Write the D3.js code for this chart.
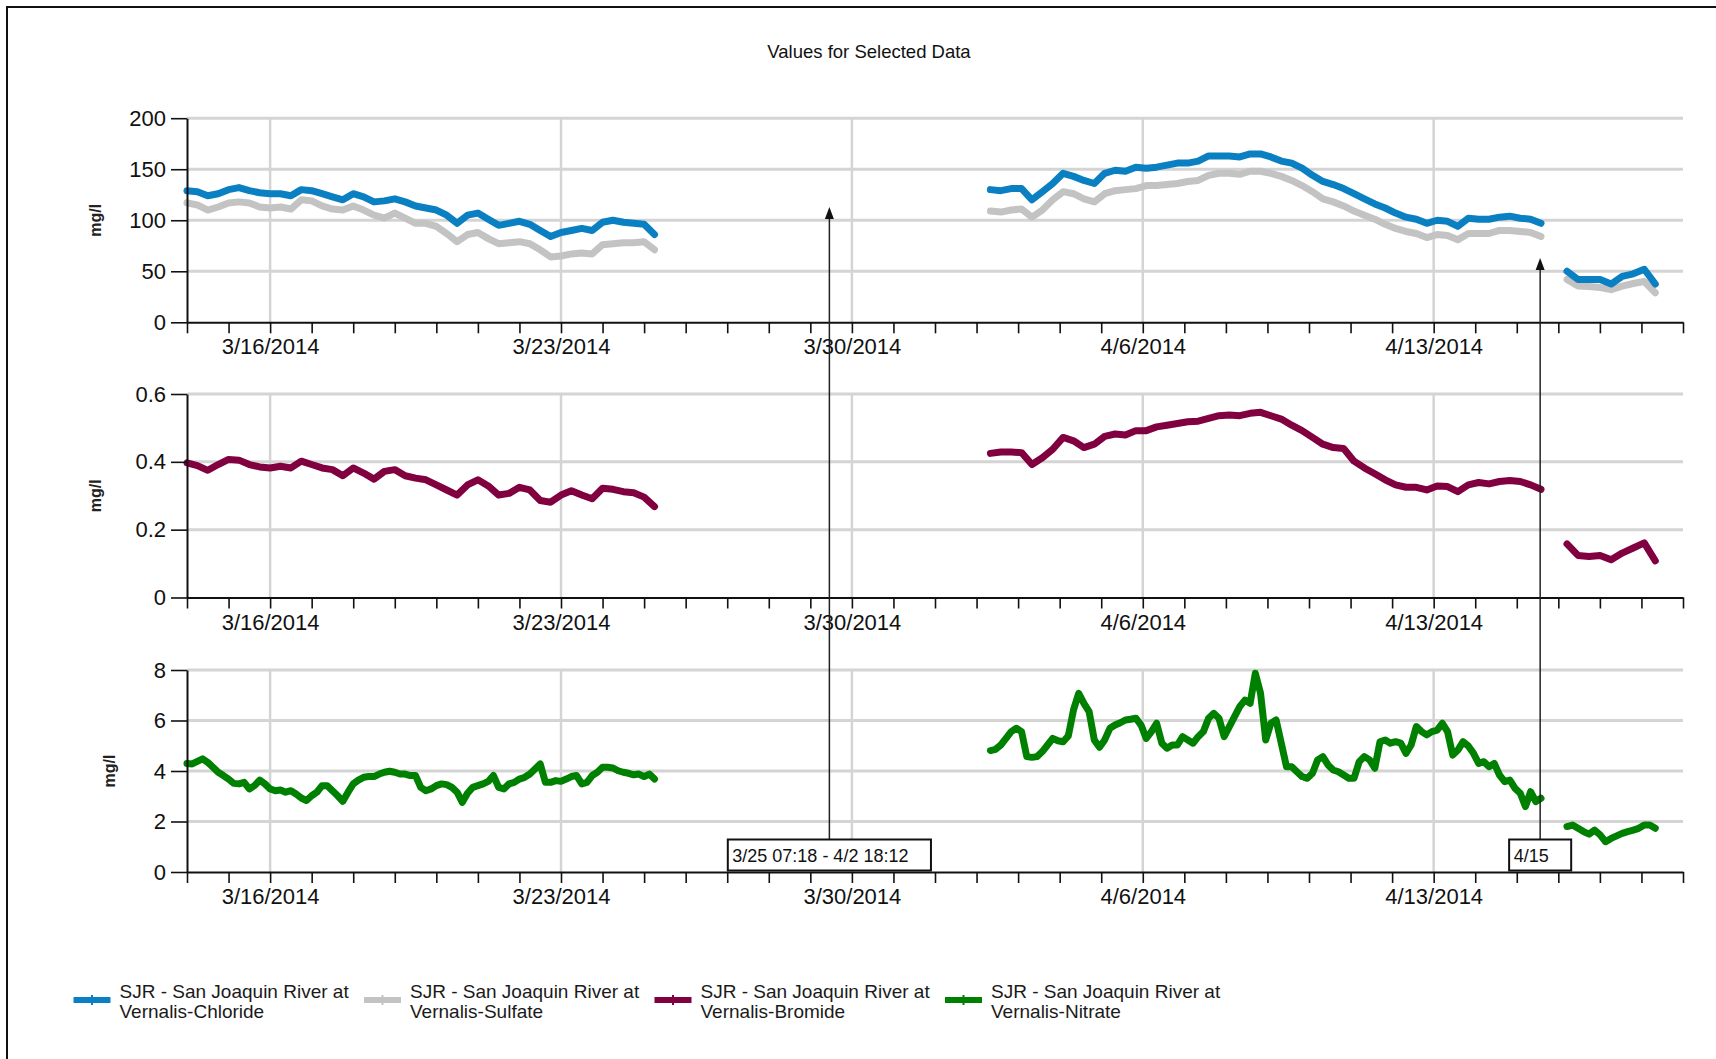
<!DOCTYPE html>
<html><head><meta charset="utf-8">
<script src="https://cdn.jsdelivr.net/npm/d3@7"></script>
<style>
html,body{margin:0;padding:0;background:#fff;overflow:hidden}
svg{display:block;font-family:"Liberation Sans",Arial,sans-serif}
</style></head><body>
<svg id="chart" width="1716" height="1059"></svg>
<script>
// ---------------- DATA ----------------
const chartTitle = "Values for Selected Data";
const yAxisTitle = "mg/l";
const xDomain = ["2014-03-14T00:00", "2014-04-19T00:00"];
const xLabelDates = ["2014-03-16T00:00", "2014-03-23T00:00", "2014-03-30T00:00", "2014-04-06T00:00", "2014-04-13T00:00"];
const xLabelTexts = ["3/16/2014", "3/23/2014", "3/30/2014", "4/6/2014", "4/13/2014"];

const segmentStarts = ["2014-03-14T00:00", "2014-04-02T08:00", "2014-04-16T05:00"];
const segmentStepHours = [6, 6, 6.375];          // chloride, sulfate, bromide
const nitrateStepHours = [3, 3, 3.1875];          // nitrate

const topTicks = [0, 50, 100, 150, 200];
const topTickLabels = ["0", "50", "100", "150", "200"];
const midTicks = [0, 0.2, 0.4, 0.6];
const midTickLabels = ["0", "0.2", "0.4", "0.6"];
const botTicks = [0, 2, 4, 6, 8];
const botTickLabels = ["0", "2", "4", "6", "8"];

const chloride1 = [129,128,124,126,130,132,129,127,126,126,124,130,129,126,123,120,126,123,118,119,121,118,114,112,110,105,97,105,107,101,95,97,99,96,90,84,88,90,92,90,98,100,98,97,96,86];
const chloride2 = [130,129,131,131,120,128,136,146,143,139,136,146,149,148,152,151,152,154,156,156,158,163,163,163,162,165,165,162,158,156,151,144,138,135,131,126,121,116,112,107,103,101,97,100,99,94,102,101,101,103,104,102,101,97];
const chloride3 = [50,42,42,42,37.5,45,47.5,52,37.5];

const sulfate1 = [117,115,110,113,117,118,117,113,112,113,111,120,119,114,111,110,114,110,105,102,107,102,97,97,94,87,79,86,88,82,77,78,79,77,71,64,65,67,68,67,76,77,78,78,79,71];
const sulfate2 = [109,108,110,111,103,110,120,128,126,121,118,126,129,130,131,134,134,135,136,138,139,144,146,146,145,148,148,146,143,139,134,128,121,118,114,109,105,101,96,92,89,87,83,86,85,81,87,87,87,90,90,89,88,84];
const sulfate3 = [42,35.5,35,34,32,35.5,38,40,29];

const bromide1 = [0.397,0.389,0.375,0.392,0.407,0.405,0.392,0.385,0.382,0.387,0.382,0.402,0.392,0.382,0.377,0.359,0.382,0.367,0.349,0.372,0.377,0.359,0.352,0.347,0.332,0.317,0.302,0.332,0.347,0.329,0.302,0.307,0.325,0.317,0.286,0.281,0.302,0.315,0.302,0.291,0.322,0.319,0.312,0.309,0.296,0.268];
const bromide2 = [0.425,0.429,0.429,0.427,0.392,0.412,0.437,0.472,0.462,0.442,0.452,0.475,0.482,0.479,0.492,0.492,0.503,0.508,0.513,0.518,0.520,0.528,0.536,0.538,0.536,0.543,0.546,0.536,0.526,0.508,0.492,0.472,0.452,0.442,0.439,0.402,0.382,0.365,0.347,0.332,0.325,0.325,0.317,0.329,0.327,0.312,0.332,0.339,0.335,0.342,0.345,0.342,0.332,0.319];
const bromide3 = [0.158,0.124,0.121,0.124,0.111,0.131,0.146,0.161,0.108];

const nitrate1 = [4.30,4.28,4.38,4.48,4.34,4.15,3.95,3.82,3.68,3.51,
  3.49,3.55,3.29,3.42,3.64,3.49,3.29,3.22,3.25,3.16,
  3.22,3.09,2.93,2.83,3.02,3.16,3.42,3.42,3.22,3.02,
  2.80,3.16,3.49,3.64,3.75,3.78,3.78,3.88,3.95,3.99,
  3.95,3.88,3.88,3.82,3.82,3.35,3.22,3.29,3.42,3.49,
  3.46,3.35,3.16,2.76,3.12,3.35,3.42,3.49,3.59,3.82,
  3.35,3.29,3.49,3.55,3.68,3.75,3.88,4.08,4.28,3.55,
  3.55,3.62,3.59,3.68,3.78,3.82,3.49,3.55,3.82,3.95,
  4.15,4.15,4.12,4.01,3.95,3.91,3.85,3.88,3.78,3.88,
  3.68];
const nitrate2 = [4.81,4.86,5.03,5.29,5.56,5.69,5.56,4.57,4.54,4.57,
  4.77,5.03,5.29,5.20,5.16,5.39,6.42,7.08,6.68,6.35,
  5.23,4.94,5.23,5.69,5.82,5.91,6.02,6.05,6.09,5.82,
  5.29,5.56,5.89,5.10,4.90,5.03,5.03,5.36,5.23,5.10,
  5.36,5.56,6.09,6.28,6.09,5.36,5.76,6.15,6.55,6.81,
  6.68,7.87,7.08,5.23,5.89,6.02,5.10,4.17,4.17,3.97,
  3.78,3.71,3.91,4.44,4.57,4.24,4.04,3.97,3.84,3.71,
  3.71,4.37,4.57,4.44,4.11,5.16,5.23,5.10,5.16,5.10,
  4.70,5.03,5.76,5.56,5.43,5.56,5.62,5.89,5.56,4.63,
  4.83,5.16,4.99,4.70,4.30,4.37,4.17,4.30,3.84,3.58,
  3.64,3.31,3.12,2.59,3.18,2.79,2.92];
const nitrate3 = [1.80,1.86,1.73,1.60,1.50,1.66,1.47,1.20,1.33,1.43,1.53,1.60,1.66,1.73,1.86,1.86,1.73];

const seriesNames = ["Chloride", "Sulfate", "Bromide", "Nitrate"];
const seriesColors = ["#0a80c2", "#c3c3c3", "#800040", "#008000"];
const legendLine1 = ["SJR - San Joaquin River at", "SJR - San Joaquin River at", "SJR - San Joaquin River at", "SJR - San Joaquin River at"];
const legendLine2 = ["Vernalis-Chloride", "Vernalis-Sulfate", "Vernalis-Bromide", "Vernalis-Nitrate"];

const annotationTexts = ["3/25 07:18 - 4/2 18:12", "4/15"];
const annotationDates = ["2014-03-29T11:00", "2014-04-15T13:30"];
const annotationTipValues = [113, 63];

// ---------------- BUILD ----------------
const parse = d3.timeParse("%Y-%m-%dT%H:%M");
function buildSeg(startStr, stepH, values) {
  const t0 = parse(startStr).getTime();
  return values.map((v, i) => ({ t: new Date(t0 + i * stepH * 3600e3), v }));
}
function buildSeries(arrs, steps) {
  return arrs.map((a, i) => buildSeg(segmentStarts[i], steps[i], a));
}
const chloride = buildSeries([chloride1, chloride2, chloride3], segmentStepHours);
const sulfate = buildSeries([sulfate1, sulfate2, sulfate3], segmentStepHours);
const bromide = buildSeries([bromide1, bromide2, bromide3], segmentStepHours);
const nitrate = buildSeries([nitrate1, nitrate2, nitrate3], nitrateStepHours);

const svg = d3.select("#chart");
const FONT = '"Liberation Sans", Arial, sans-serif';

// outer frame
svg.append("rect").attr("x", 7).attr("y", 7).attr("width", 1800).attr("height", 1200)
  .attr("fill", "#fff").attr("stroke", "#111").attr("stroke-width", 2);

svg.append("text").attr("x", 869).attr("y", 58).attr("text-anchor", "middle")
  .attr("font-size", 18.5).attr("fill", "#111").text(chartTitle);

const x = d3.scaleTime().domain(xDomain.map(parse)).range([187, 1683]);
const allDays = d3.timeDay.range(parse(xDomain[0]), d3.timeDay.offset(parse(xDomain[1]), 1));
const labelDates = xLabelDates.map(parse);

const panels = [
  { y: d3.scaleLinear().domain([0, 200]).range([322.3, 118.2]), ticks: topTicks, labels: topTickLabels,
    series: [[sulfate, 1], [chloride, 0]], titleX: 95 },
  { y: d3.scaleLinear().domain([0, 0.6]).range([597.5, 394]), ticks: midTicks, labels: midTickLabels,
    series: [[bromide, 2]], titleX: 95 },
  { y: d3.scaleLinear().domain([0, 8]).range([872, 670]), ticks: botTicks, labels: botTickLabels,
    series: [[nitrate, 3]], titleX: 109 }
];

panels.forEach(p => {
  const g = svg.append("g");
  const [y0, y1] = p.y.range();
  // grid
  g.selectAll(".hg").data(p.ticks.filter(t => t !== 0)).join("line")
    .attr("x1", x.range()[0]).attr("x2", x.range()[1])
    .attr("y1", d => p.y(d)).attr("y2", d => p.y(d))
    .attr("stroke", "#d4d4d4").attr("stroke-width", 3);
  g.selectAll(".vg").data(labelDates).join("line")
    .attr("x1", d => x(d)).attr("x2", d => x(d))
    .attr("y1", y1).attr("y2", y0)
    .attr("stroke", "#d4d4d4").attr("stroke-width", 2.5);

  // series
  const line = d3.line().x(d => x(d.t)).y(d => p.y(d.v)).curve(d3.curveLinear);
  p.series.forEach(([segs, ci]) => {
    segs.forEach(seg => {
      g.append("path").attr("d", line(seg)).attr("fill", "none")
        .attr("stroke", seriesColors[ci]).attr("stroke-width", 7)
        .attr("stroke-linejoin", "round").attr("stroke-linecap", "round");
    });
  });

  // y axis
  const ya = d3.axisLeft(p.y).tickValues(p.ticks).tickSize(16).tickSizeOuter(0).tickPadding(5)
    .tickFormat((d, i) => p.labels[i]);
  const yg = g.append("g").attr("transform", `translate(${x.range()[0]},0)`).call(ya);
  yg.select(".domain").attr("stroke", "#111").attr("stroke-width", 2);
  yg.selectAll(".tick line").attr("stroke", "#111").attr("stroke-width", 1.6);
  yg.selectAll("text").attr("font-size", 22).attr("font-family", FONT).attr("fill", "#111");

  // x axis
  const xa = d3.axisBottom(x).tickValues(allDays).tickSize(11).tickSizeOuter(0).tickPadding(5.5)
    .tickFormat(d => { const i = labelDates.findIndex(l => +l === +d); return i >= 0 ? xLabelTexts[i] : ""; });
  const xg = g.append("g").attr("transform", `translate(0,${y0})`).call(xa);
  xg.select(".domain").attr("stroke", "#111").attr("stroke-width", 2);
  xg.selectAll(".tick line").attr("stroke", "#111").attr("stroke-width", 1.6);
  xg.selectAll("text").attr("font-size", 22).attr("font-family", FONT).attr("fill", "#111");

  // axis title
  g.append("text").attr("transform", `translate(${p.titleX},${(y0 + y1) / 2}) rotate(-90)`)
    .attr("text-anchor", "middle").attr("dy", "0.35em").attr("font-size", 16)
    .attr("font-weight", "bold").attr("fill", "#222").text(yAxisTitle);
});

// annotations
const topY = panels[0].y, botY = panels[2].y;
annotationTexts.forEach((txt, i) => {
  const ax = x(parse(annotationDates[i]));
  const tipY = topY(annotationTipValues[i]);
  const boxBottom = botY(0) - 1.5, boxH = 31, boxTop = boxBottom - boxH;
  const g = svg.append("g");
  g.append("line").attr("x1", ax).attr("x2", ax).attr("y1", boxTop).attr("y2", tipY + 6)
    .attr("stroke", "#222").attr("stroke-width", 1.5);
  g.append("path").attr("d", `M${ax},${tipY} L${ax - 4.5},${tipY + 12} L${ax + 4.5},${tipY + 12} Z`).attr("fill", "#111");
  const t = g.append("text").attr("font-size", 18).attr("fill", "#111").text(txt);
  const w = t.node().getComputedTextLength();
  const bw = w + 27, bx = ax - bw / 2;
  g.insert("rect", "text").attr("x", bx).attr("y", boxTop).attr("width", bw).attr("height", boxH)
    .attr("fill", "#fff").attr("stroke", "#111").attr("stroke-width", 2);
  t.attr("x", bx + 4.5).attr("y", boxTop + 22);
});

// legend
seriesNames.forEach((n, i) => {
  const lx = 73.5 + i * 290.5, ly = 1000;
  const g = svg.append("g");
  g.append("line").attr("x1", lx).attr("x2", lx + 37).attr("y1", ly).attr("y2", ly)
    .attr("stroke", seriesColors[i]).attr("stroke-width", 6);
  g.append("rect").attr("x", lx + 17.5).attr("y", ly - 5).attr("width", 2).attr("height", 10)
    .attr("fill", seriesColors[i]);
  g.append("text").attr("x", lx + 46).attr("y", 998).attr("font-size", 19).attr("fill", "#1a1a1a").text(legendLine1[i]);
  g.append("text").attr("x", lx + 46).attr("y", 1018).attr("font-size", 19).attr("fill", "#1a1a1a").text(legendLine2[i]);
});
</script>
</body></html>
